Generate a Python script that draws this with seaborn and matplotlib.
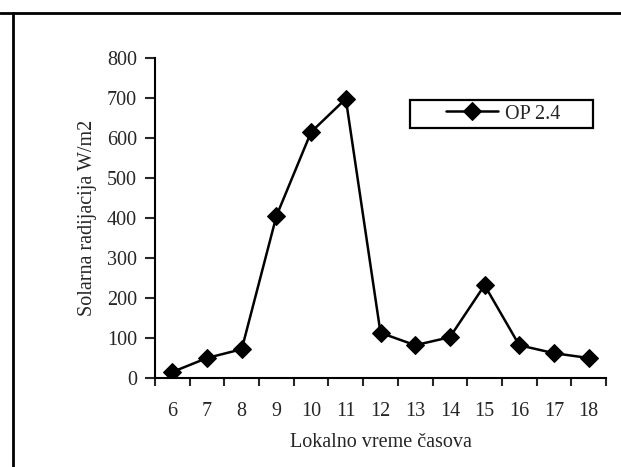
import numpy as np
import pandas as pd
import matplotlib
matplotlib.use("Agg")
import matplotlib.pyplot as plt
from matplotlib.lines import Line2D
from matplotlib.patches import Rectangle
import seaborn as sns

hours = [6, 7, 8, 9, 10, 11, 12, 13, 14, 15, 16, 17, 18]
radiation = [15, 50, 72, 405, 615, 698, 113, 82, 102, 232, 82, 62, 50]
series_name = "OP 2.4"
y_ticks = [0, 100, 200, 300, 400, 500, 600, 700, 800]

sns.set_style("white")
plt.rcParams['font.family'] = ['Liberation Serif', 'DejaVu Serif']
FS = 14.5

df = pd.DataFrame({"pos": np.arange(len(hours)), "val": radiation, "s": series_name})

W, H = 621, 467
fig = plt.figure(figsize=(W / 100, H / 100), dpi=100)
ax = fig.add_axes([155 / W, 1 - 378 / H, (606 - 155) / W, (378 - 58) / H])

sns.lineplot(data=df, x="pos", y="val", hue="s", palette=["black"], marker="D",
             markersize=9.5, markeredgecolor="black", linewidth=1.8, ax=ax, legend=True)

ax.set_xlim(-0.5, len(hours) - 0.5)
ax.set_ylim(0, 800)
ax.set_yticks(y_ticks)
ax.set_yticklabels([str(t) for t in y_ticks], fontsize=FS)
ax.set_xticks(np.arange(-0.5, len(hours), 1.0))
ax.set_xticklabels([])
ax.set_xticks(np.arange(len(hours)), minor=True)
ax.set_xticklabels([str(h) for h in hours], minor=True, fontsize=FS)
ax.tick_params(axis='x', which='major', direction='out', length=6, width=1.5, bottom=True)
ax.tick_params(axis='x', which='minor', length=0, pad=17)
ax.tick_params(axis='y', direction='out', length=7, width=1.5, left=True, pad=6)
for side in ['top', 'right']:
    ax.spines[side].set_visible(False)
for side in ['left', 'bottom']:
    ax.spines[side].set_color('black')
    ax.spines[side].set_linewidth(1.5)

ax.set_xlabel("Lokalno vreme časova", fontsize=FS, labelpad=9)
ax.set_ylabel("Solarna radijacija W/m2", fontsize=FS, labelpad=7)

# legend frame (wide box) and centred legend content
bx0, bx1, by0, by1 = 410, 593, 100, 128
ax_x = lambda px: (px - 155) / (606 - 155)
ax_y = lambda py: (378 - py) / (378 - 58)
ax.add_patch(Rectangle((ax_x(bx0), ax_y(by1)), ax_x(bx1) - ax_x(bx0), ax_y(by0) - ax_y(by1),
                       transform=ax.transAxes, fill=True, facecolor='white',
                       edgecolor='black', linewidth=1.6, zorder=4, clip_on=False))
leg = ax.legend(loc='center', bbox_to_anchor=(ax_x(503), ax_y(114)), fontsize=FS,
                frameon=False, handlelength=2.6, borderpad=0, handletextpad=0.3,
                borderaxespad=0)
leg.set_zorder(5)
leg.set_title(None)

# outer frame lines (top and left)
fig.add_artist(Line2D([0, 1], [1 - 13 / H, 1 - 13 / H], color='black', linewidth=2.0,
                      transform=fig.transFigure))
fig.add_artist(Line2D([13 / W, 13 / W], [0, 1 - 13 / H], color='black', linewidth=2.0,
                      transform=fig.transFigure))

fig.savefig("out.png", dpi=100)
